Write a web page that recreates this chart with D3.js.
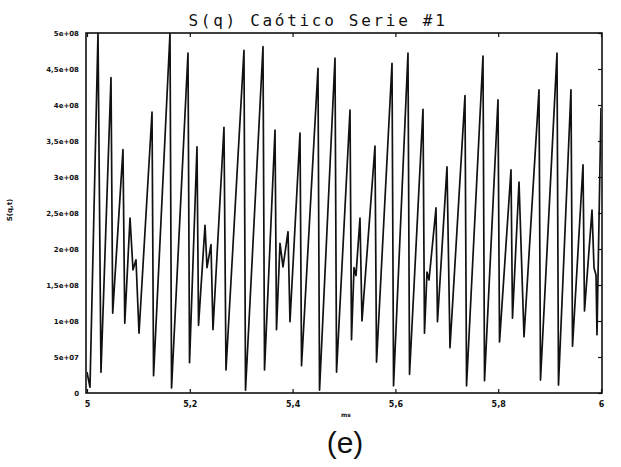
<!DOCTYPE html>
<html><head><meta charset="utf-8">
<script src="https://cdn.jsdelivr.net/npm/d3@7"></script>
<style>html,body{margin:0;padding:0;background:#fff;}svg{display:block;}</style>
</head><body>
<svg id="chart" width="621" height="467"></svg>
<script>
// ---- data ----
const title = "S(q) Caótico Serie #1";
const xTicks = [5, 5.2, 5.4, 5.6, 5.8, 6];
const xTickLabels = ["5", "5,2", "5,4", "5,6", "5,8", "6"];
const yTicks = [0, 0.5e8, 1e8, 1.5e8, 2e8, 2.5e8, 3e8, 3.5e8, 4e8, 4.5e8, 5e8];
const yTickLabels = ["0", "5e+07", "1e+08", "1,5e+08", "2e+08", "2,5e+08", "3e+08", "3,5e+08", "4e+08", "4,5e+08", "5e+08"];
const time = [5.0000,5.0058,5.0214,5.0272,5.0467,5.0500,5.0700,5.0735,5.0837,5.0895,5.0953,5.1012,5.1265,5.1295,5.1615,5.1645,
  5.1965,5.1995,5.2140,5.2170,5.2296,5.2335,5.2412,5.2451,5.2665,5.2704,5.3054,5.3084,5.3424,5.3454,5.3658,5.3687,5.3755,5.3813,
  5.3911,5.3949,5.4144,5.4174,5.4494,5.4524,5.4825,5.4855,5.5117,5.5146,5.5195,5.5233,5.5311,5.5350,5.5603,5.5633,5.5934,5.5964,
  5.6245,5.6275,5.6537,5.6566,5.6615,5.6654,5.6790,5.6819,5.7004,5.7062,5.7354,5.7384,5.7704,5.7734,5.7996,5.8026,5.8249,5.8278,
  5.8405,5.8502,5.8794,5.8823,5.9144,5.9173,5.9416,5.9446,5.9650,5.9679,5.9825,5.9864,5.9903,5.9922,6.0000];
const sq = [0.29,0.08,5.00,0.29,4.38,1.11,3.38,0.97,2.43,1.71,1.85,0.83,3.90,0.24,5.00,0.07,
  4.72,0.42,3.42,0.94,2.33,1.74,2.06,0.88,3.69,0.32,4.76,0.04,4.81,0.32,3.65,0.88,2.08,1.75,
  2.24,0.99,3.61,0.38,4.51,0.04,4.65,0.29,3.93,0.74,1.74,1.63,2.43,1.00,3.43,0.43,4.58,0.10,
  4.72,0.26,3.94,0.83,1.68,1.57,2.57,0.99,3.14,0.63,4.13,0.10,4.68,0.17,4.07,0.71,3.10,1.04,
  2.93,0.78,4.21,0.18,4.72,0.11,4.21,0.65,3.17,1.14,2.54,1.74,1.64,0.81,3.96]; // x 1e8

// ---- drawing ----
(function () {
const svg = d3.select("#chart");
const pL = 87, pR = 601, pT = 33, pB = 393;
const x = d3.scaleLinear().domain([5, 6]).range([pL, pR]);
const y = d3.scaleLinear().domain([0, 5e8]).range([pB, pT]);

svg.append("text").attr("x", 318).attr("y", 26).attr("text-anchor", "middle")
  .attr("font-family", "DejaVu Sans Mono").attr("font-size", 16).attr("letter-spacing", 2.7)
  .attr("fill", "#111").text(title);

svg.append("defs").append("clipPath").attr("id", "clip").append("rect")
  .attr("x", pL).attr("y", pT).attr("width", pR - pL).attr("height", pB - pT);

// frame
svg.append("rect").attr("x", pL - 1).attr("y", pT).attr("width", pR - pL + 2).attr("height", pB - pT)
  .attr("fill", "none").attr("stroke", "#111").attr("stroke-width", 1.6);

// left axis
const yAxis = d3.axisLeft(y).tickValues(yTicks).tickSize(0).tickPadding(7)
  .tickFormat((d, i) => yTickLabels[i]);
const gy = svg.append("g").attr("transform", `translate(${pL - 1},0)`).call(yAxis);
gy.select(".domain").remove();
gy.selectAll("text").attr("font-family", "DejaVu Sans").attr("font-size", 7).attr("font-weight", "bold").attr("fill", "#111");

// right inner ticks
const yAxisR = d3.axisLeft(y).tickValues(yTicks).tickSize(4).tickFormat("");
const gyr = svg.append("g").attr("transform", `translate(${pR + 1},0)`).call(yAxisR);
gyr.select(".domain").remove();
gyr.selectAll("line").attr("stroke", "#111").attr("stroke-width", 1.2);

// bottom axis
const xAxis = d3.axisBottom(x).tickValues(xTicks).tickSize(0).tickPadding(8)
  .tickFormat((d, i) => xTickLabels[i]);
const gx = svg.append("g").attr("transform", `translate(0,${pB})`).call(xAxis);
gx.select(".domain").remove();
gx.selectAll("text").attr("font-family", "DejaVu Sans").attr("font-size", 8).attr("font-weight", "bold").attr("fill", "#111");

// inner ticks bottom & top
const xIn = d3.axisTop(x).tickValues(xTicks).tickSize(4).tickFormat("");
const gxi = svg.append("g").attr("transform", `translate(0,${pB})`).call(xIn);
gxi.select(".domain").remove();
gxi.selectAll("line").attr("stroke", "#111").attr("stroke-width", 1.2);
const xTop = d3.axisBottom(x).tickValues(xTicks).tickSize(4).tickFormat("");
const gxt = svg.append("g").attr("transform", `translate(0,${pT})`).call(xTop);
gxt.select(".domain").remove();
gxt.selectAll("line").attr("stroke", "#111").attr("stroke-width", 1.2);

// series
const data = time.map((t, i) => ({t: t, v: sq[i] * 1e8}));
const line = d3.line().x(d => x(d.t)).y(d => y(d.v));
svg.append("path").datum(data).attr("clip-path", "url(#clip)")
  .attr("d", line).attr("fill", "none").attr("stroke", "#111").attr("stroke-width", 1.7)
  .attr("stroke-linejoin", "round");

// axis titles
svg.append("text").attr("transform", "translate(12,210) rotate(-90)").attr("text-anchor", "middle")
  .attr("font-family", "DejaVu Sans").attr("font-size", 7).attr("font-weight", "bold").attr("fill", "#111")
  .text("S(q,t)");
svg.append("text").attr("x", 346).attr("y", 417).attr("text-anchor", "middle")
  .attr("font-family", "DejaVu Sans").attr("font-size", 6).attr("font-weight", "bold").attr("fill", "#111")
  .text("ms");

svg.append("text").attr("x", 345).attr("y", 453).attr("text-anchor", "middle")
  .attr("font-family", "Liberation Sans").attr("font-size", 30).attr("fill", "#111")
  .text("(e)");
})();
</script>
</body></html>
